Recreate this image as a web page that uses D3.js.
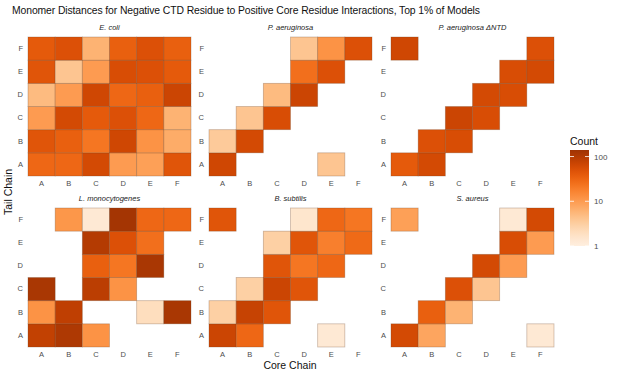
<!DOCTYPE html>
<html>
<head>
<meta charset="utf-8">
<script src="https://cdn.jsdelivr.net/npm/d3@7"></script>
<style>
  body { margin: 0; background: #fff; }
  text { font-family: "Liberation Sans", Arial, sans-serif; }
</style>
</head>
<body>
<svg id="chart" width="617" height="375"></svg>
<script>
// chains, used for both axes
var chains = ["A", "B", "C", "D", "E", "F"];
var species = ["E. coli", "P. aeruginosa", "P. aeruginosa \u0394NTD",
               "L. monocytogenes", "B. subtilis", "S. aureus"];

// counts, one row per tail chain (A..F), columns = core chain (A..F); null = no tile
var ecoli = [
  [30, 30, 60, 10, 9, 45],
  [45, 35, 22, 65, 12, 7],
  [10, 60, 40, 50, 30, 6],
  [5, 10, 65, 30, 35, 70],
  [45, 4, 10, 55, 50, 40],
  [40, 50, 6, 35, 50, 35]
];
var paer = [
  [65, null, null, null, 4, null],
  [3.5, 60, null, null, null, null],
  [null, 4, 55, null, null, null],
  [null, null, 5, 70, null, null],
  [null, null, null, 25, 50, null],
  [null, null, null, 4, 12, 50]
];
var paerNtd = [
  [40, 60, null, null, null, null],
  [null, 50, 55, null, null, null],
  [null, null, 70, 55, null, null],
  [null, null, null, 60, 55, null],
  [null, null, null, null, 55, 60],
  [65, null, null, null, null, 50]
];
var lmono = [
  [80, 110, 12, null, null, null],
  [12, 85, null, null, 2, 120],
  [120, null, 90, 12, null, null],
  [null, null, 35, 22, 120, null],
  [null, null, 100, 50, 25, null],
  [null, 11, 1.3, 130, 30, 30]
];
var bsub = [
  [70, 30, null, null, 1.3, null],
  [3, 75, 45, null, null, null],
  [null, 3, 70, 45, null, null],
  [null, null, 45, 22, 30, null],
  [null, null, 3, 45, 18, 28],
  [45, null, null, 1.5, 30, 22]
];
var saur = [
  [60, 8, null, null, null, 1.3],
  [null, 35, 6, null, null, null],
  [null, null, 50, 4, null, null],
  [null, null, null, 60, 10, null],
  [null, null, null, null, 55, 10],
  [9, null, null, null, 1.3, 60]
];
var panels = [ecoli, paer, paerNtd, lmono, bsub, saur];
var legendTicks = [1, 10, 100];

var svg = d3.select("#chart");
var colX = [28, 209, 391], rowY = [37, 208];
var pw = 163, ph = 139;

var color = d3.scaleSequentialLog(t => d3.interpolateOranges(0.05 + t * 0.85))
    .domain([1, 140]);

svg.append("text").attr("x", 12).attr("y", 14)
    .attr("font-size", 10.4).attr("fill", "#111")
    .attr("textLength", 468).attr("lengthAdjust", "spacing")
    .text("Monomer Distances for Negative CTD Residue to Positive Core Residue Interactions, Top 1% of Models");

panels.forEach(function(m, i) {
    var px = colX[i % 3], py = rowY[Math.floor(i / 3)];
    var x = d3.scaleBand().domain(chains).range([0, pw]);
    var y = d3.scaleBand().domain(chains).range([ph, 0]);
    var g = svg.append("g").attr("transform", "translate(" + px + "," + py + ")");

    var cells = [];
    m.forEach((row, ti) => row.forEach((v, ci) => {
        if (v != null) cells.push({ core: chains[ci], tail: chains[ti], v: v });
    }));

    g.selectAll("rect").data(cells).enter().append("rect")
        .attr("x", d => x(d.core)).attr("y", d => y(d.tail))
        .attr("width", x.bandwidth()).attr("height", y.bandwidth())
        .attr("fill", d => color(d.v))
        .attr("stroke", "rgba(110,70,40,0.35)").attr("stroke-width", 0.8);

    g.append("text").attr("x", pw / 2).attr("y", -7)
        .attr("text-anchor", "middle").attr("font-size", 7.5)
        .attr("font-style", "italic").attr("fill", "#1a1a1a")
        .text(species[i]);

    var xa = g.append("g").attr("transform", "translate(0," + ph + ")")
        .call(d3.axisBottom(x).tickSize(0).tickPadding(5));
    var ya = g.append("g").call(d3.axisLeft(y).tickSize(0).tickPadding(5));
    [xa, ya].forEach(a => {
        a.select(".domain").remove();
        a.selectAll("text").attr("font-size", 7.5).attr("fill", "#4d4d4d")
            .attr("font-family", "Liberation Sans, Arial, sans-serif");
    });
});

svg.append("text").attr("x", 290).attr("y", 369)
    .attr("text-anchor", "middle").attr("font-size", 10.5).attr("fill", "#111")
    .text("Core Chain");
svg.append("text").attr("transform", "translate(12,192) rotate(-90)")
    .attr("text-anchor", "middle").attr("font-size", 10.5).attr("fill", "#111")
    .text("Tail Chain");

// legend colour bar
var lg = svg.append("g").attr("transform", "translate(570,150)");
var ly = d3.scaleLog().domain([1, 140]).range([96, 0]);
var grad = svg.append("defs").append("linearGradient").attr("id", "lgrad")
    .attr("x1", 0).attr("y1", 1).attr("x2", 0).attr("y2", 0);
d3.range(0, 1.001, 0.05).forEach(t => {
    grad.append("stop").attr("offset", t)
        .attr("stop-color", color(Math.pow(140, t)));
});
lg.append("rect").attr("width", 19).attr("height", 96).attr("fill", "url(#lgrad)");
lg.append("text").attr("x", 0).attr("y", -5).attr("font-size", 10.5)
    .attr("fill", "#111").text("Count");
lg.selectAll(".tk").data(legendTicks).enter().append("g").attr("class", "tk")
    .each(function(d) {
        var s = d3.select(this);
        s.append("line").attr("x1", 0).attr("x2", 4).attr("y1", ly(d)).attr("y2", ly(d))
            .attr("stroke", "#fff").attr("stroke-width", 0.8);
        s.append("line").attr("x1", 15).attr("x2", 19).attr("y1", ly(d)).attr("y2", ly(d))
            .attr("stroke", "#fff").attr("stroke-width", 0.8);
        s.append("text").attr("x", 24).attr("y", ly(d) + 3)
            .attr("font-size", 8).attr("fill", "#4d4d4d").text(d);
    });
</script>
</body>
</html>
